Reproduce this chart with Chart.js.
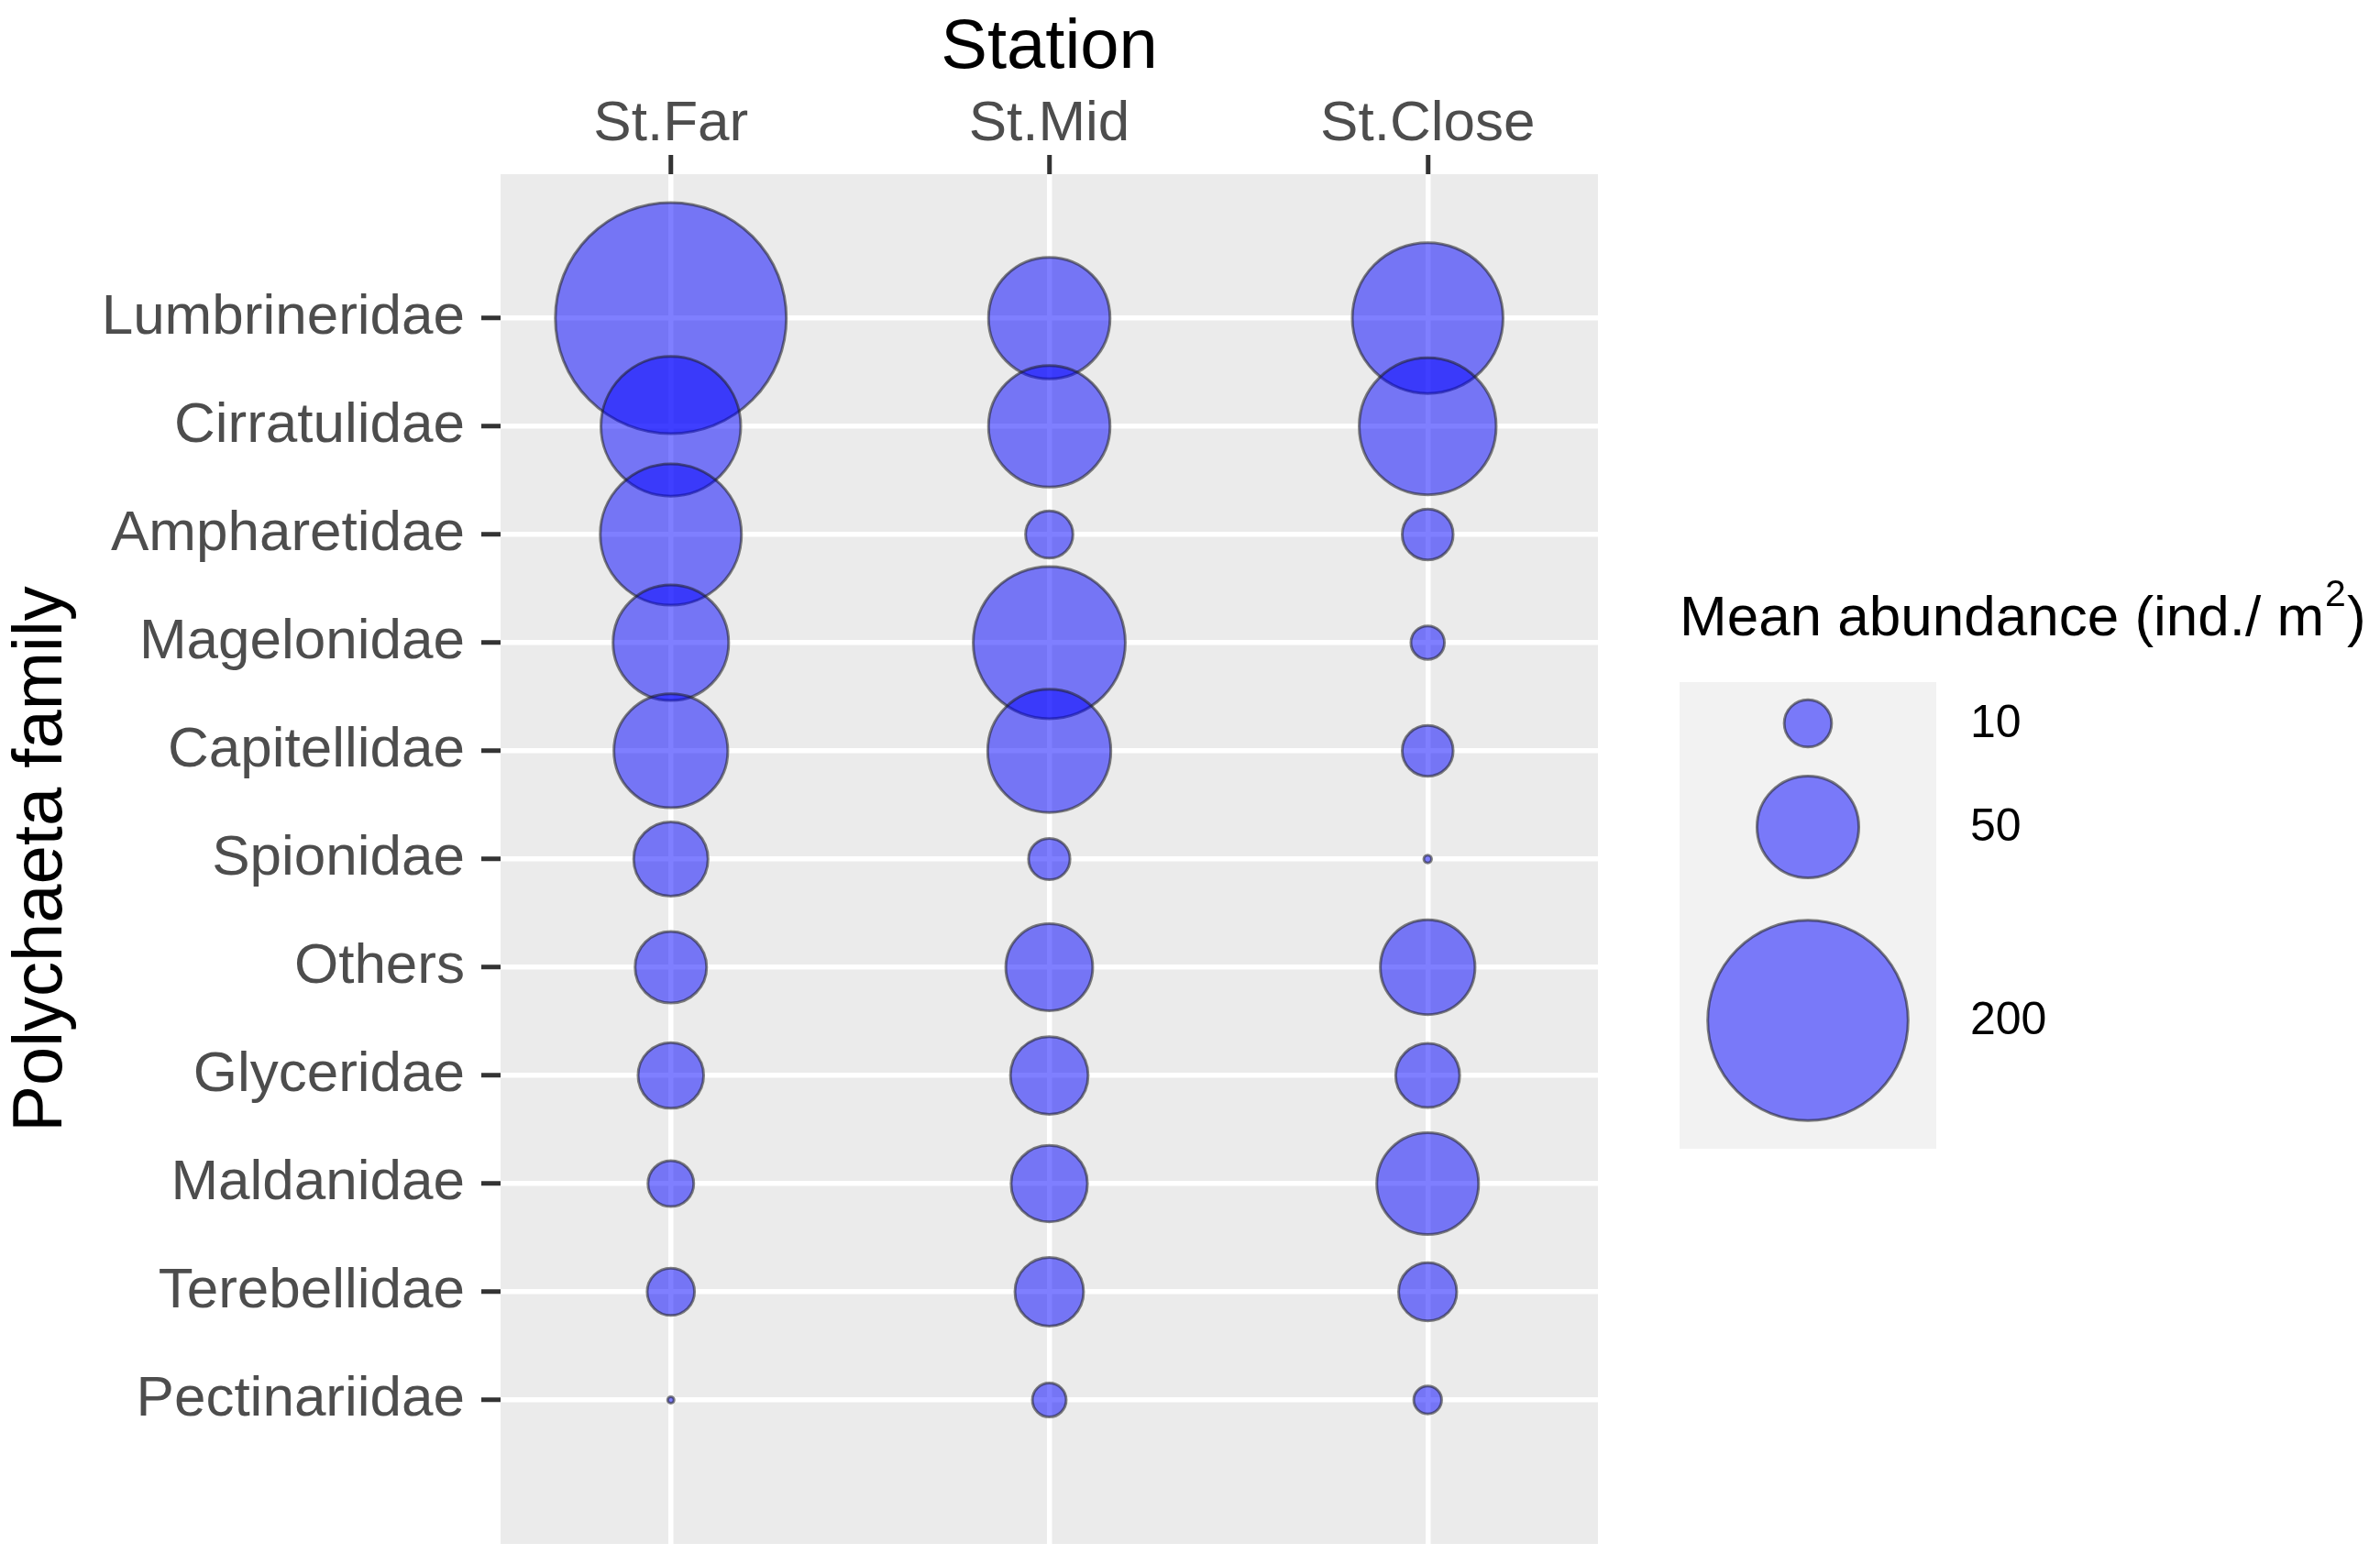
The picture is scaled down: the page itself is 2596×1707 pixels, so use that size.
<!DOCTYPE html>
<html>
<head>
<meta charset="utf-8">
<title>Polychaeta family - mean abundance</title>
<script src="https://cdn.jsdelivr.net/npm/chart.js@4/dist/chart.umd.min.js"></script>
<style>
    body { margin: 0; background: #ffffff; }
    canvas { display: block; }
</style>
</head>
<body>
<canvas id="bubble-chart" width="2596" height="1707"></canvas>
<script>
const families = ['Lumbrineridae', 'Cirratulidae', 'Ampharetidae', 'Magelonidae', 'Capitellidae',
    'Spionidae', 'Others', 'Glyceridae', 'Maldanidae', 'Terebellidae', 'Pectinariidae'];
const stations = ['St.Far', 'St.Mid', 'St.Close'];

// mean abundance (ind./m2), one value per family, same order as families
const st_far = [267, 96, 98, 65, 63, 26, 24, 20, 9.3, 10, 0.05];
const st_mid = [72, 72, 10, 114, 74, 7.5, 36, 28.5, 27.5, 22, 4.8];
const st_close = [112, 92, 11.7, 4.7, 11.7, 0.1, 43, 19, 50, 15.5, 3.1];

const legend_values = [10, 50, 200];

const FONT = '"Liberation Sans", Arial, sans-serif';
const FILL = 'rgba(0, 0, 255, 0.5)';
const STROKE = 'rgba(30, 30, 30, 0.55)';

Chart.defaults.font.family = FONT;

// area scaling like ggplot's scale_size
function bubbleRadius(v) {
    return 1.8 + 7.6 * Math.sqrt(v);
}

var bubble_chart;

window.onload = function() {
    draw_chart();
}

function draw_chart() {
    const series = [st_far, st_mid, st_close];
    const points = [];
    series.forEach(function(values, si) {
        values.forEach(function(v, fi) {
            points.push({ x: si, y: fi, r: bubbleRadius(v) });
        });
    });

    const panelBackground = {
        id: 'panelBackground',
        beforeDraw(chart) {
            const a = chart.chartArea;
            const ctx = chart.ctx;
            ctx.save();
            ctx.fillStyle = '#EBEBEB';
            ctx.fillRect(a.left, a.top, a.right - a.left, a.bottom - a.top);
            ctx.restore();
        }
    };

    const sizeLegend = {
        id: 'sizeLegend',
        afterDraw(chart) {
            const ctx = chart.ctx;
            const left = chart.chartArea.right + 89;
            ctx.save();

            // title with superscript
            ctx.fillStyle = '#000000';
            ctx.textBaseline = 'alphabetic';
            ctx.textAlign = 'left';
            ctx.font = '62px ' + FONT;
            const main = 'Mean abundance (ind./ m';
            let x = left;
            ctx.fillText(main, x, 693);
            x += ctx.measureText(main).width + 1;
            ctx.font = '41px ' + FONT;
            ctx.fillText('2', x, 661);
            x += ctx.measureText('2').width + 1;
            ctx.font = '62px ' + FONT;
            ctx.fillText(')', x, 693);

            // key box
            ctx.fillStyle = '#F2F2F2';
            ctx.fillRect(left, 744, 280, 509);

            const keyY = [789, 902, 1113];
            legend_values.forEach(function(v, i) {
                ctx.beginPath();
                ctx.arc(left + 140, keyY[i], bubbleRadius(v), 0, Math.PI * 2);
                ctx.fillStyle = FILL;
                ctx.fill();
                ctx.lineWidth = 3;
                ctx.strokeStyle = STROKE;
                ctx.stroke();

                ctx.fillStyle = '#000000';
                ctx.font = '50px ' + FONT;
                ctx.textBaseline = 'middle';
                ctx.fillText(String(v), left + 317, keyY[i] + 1);
            });
            ctx.restore();
        }
    };

    const ctx = document.getElementById('bubble-chart').getContext('2d');
    bubble_chart = new Chart(ctx, {
        type: 'bubble',
        data: {
            datasets: [{
                label: 'Mean abundance',
                data: points,
                backgroundColor: FILL,
                borderColor: STROKE,
                borderWidth: 3
            }]
        },
        options: {
            responsive: false,
            animation: false,
            events: [],
            clip: false,
            layout: {
                autoPadding: false,
                padding: { top: 0, left: 0, right: 853, bottom: 23 }
            },
            plugins: {
                legend: { display: false },
                tooltip: { enabled: false }
            },
            scales: {
                x: {
                    type: 'linear',
                    position: 'top',
                    min: -0.45,
                    max: 2.45,
                    afterBuildTicks: function(scale) {
                        scale.ticks = stations.map(function(_, i) { return { value: i }; });
                    },
                    afterFit: function(scale) {
                        scale.height = 190;
                        scale.paddingLeft = 0;
                        scale.paddingRight = 0;
                    },
                    ticks: {
                        callback: function(value) { return stations[value]; },
                        color: '#4D4D4D',
                        font: { size: 62, lineHeight: 1 },
                        padding: 2,
                        maxRotation: 0,
                        autoSkip: false
                    },
                    grid: {
                        color: '#FFFFFF',
                        lineWidth: 5.5,
                        tickColor: '#333333',
                        tickWidth: 5,
                        tickLength: 21
                    },
                    border: { display: false },
                    title: {
                        display: true,
                        text: 'Station',
                        color: '#000000',
                        font: { size: 76 },
                        padding: { top: 7, bottom: 0 }
                    }
                },
                y: {
                    type: 'linear',
                    reverse: true,
                    min: -1.33,
                    max: 11.33,
                    afterBuildTicks: function(scale) {
                        scale.ticks = families.map(function(_, i) { return { value: i }; });
                    },
                    afterFit: function(scale) {
                        scale.width = 546;
                        scale.paddingTop = 0;
                        scale.paddingBottom = 0;
                    },
                    ticks: {
                        callback: function(value) { return families[value]; },
                        color: '#4D4D4D',
                        font: { size: 62 },
                        padding: 18,
                        autoSkip: false
                    },
                    grid: {
                        color: '#FFFFFF',
                        lineWidth: 5.5,
                        tickColor: '#333333',
                        tickWidth: 5,
                        tickLength: 21
                    },
                    border: { display: false },
                    title: {
                        display: true,
                        text: 'Polychaeta family',
                        color: '#000000',
                        font: { size: 76 },
                        padding: { top: 0, bottom: 0 }
                    }
                }
            }
        },
        plugins: [panelBackground, sizeLegend]
    });
}
</script>
</body>
</html>
